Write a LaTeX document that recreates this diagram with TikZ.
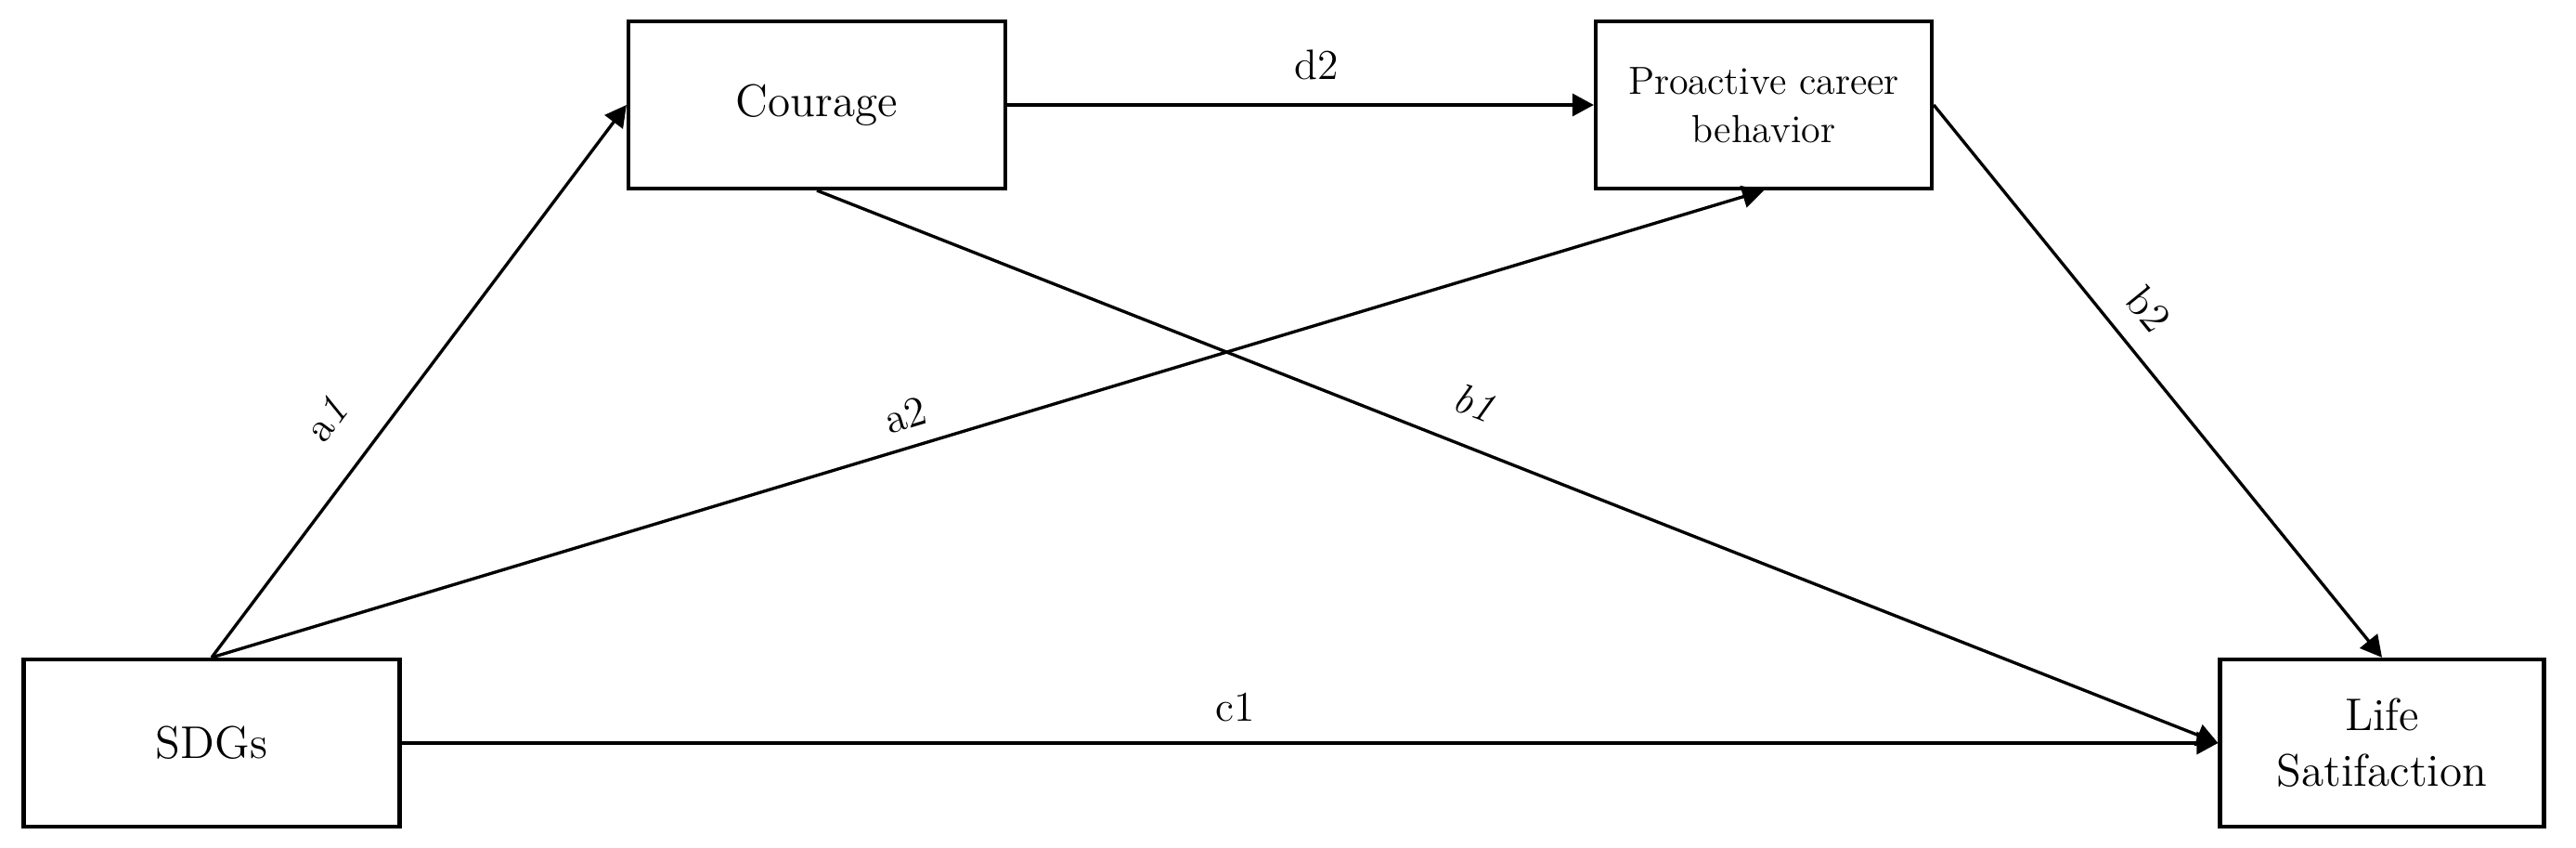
\documentclass[tikz,border=0pt]{standalone}
\usetikzlibrary{arrows.meta}
\tikzset{box/.style={draw,line width=1.2pt,minimum height=1.80cm,align=center,font=\fontsize{14}{17}\selectfont}}
\tikzset{arr/.style={line width=0.95pt,-{Triangle[length=2.3mm,width=2.4mm]}}}
\tikzset{coef/.style={sloped,above,inner sep=0pt,font=\fontsize{13}{15}\selectfont}}

\begin{document}
\begin{tikzpicture}
	\useasboundingbox (0,0) rectangle (27.75,9.13);
	% variables
	\node[box,minimum width=4.05cm] (sdg) at (2.28,1.13) {SDGs};
	\node[box,minimum width=4.06cm] (cour) at (8.80,8.00) {Courage};
	\node[box,minimum width=3.62cm,font=\fontsize{12}{14.7}\selectfont] (pcb) at (19.00,8.00) {Proactive career\\behavior};
	\node[box,minimum width=3.49cm] (ls) at (25.66,1.13) {Life\\Satifaction};

	% paths
	\draw[arr] (sdg.north) -- node[coef,pos=0.375,outer sep=0.40cm] {a\textit{1}} (cour.west);
	\draw[arr] (sdg.north) -- node[coef,pos=0.453,outer sep=0.19cm] {a2} (pcb.south);
	\draw[arr] (cour.east) -- node[coef,pos=0.527,outer sep=0.27cm] {d2} (pcb.west);
	\draw[arr] (cour.south) -- node[coef,pos=0.458,outer sep=0.31cm] {\textit{b1}} (ls.west);
	\draw[arr] (pcb.east) -- node[coef,pos=0.413,outer sep=0.25cm] {b2} (ls.north);
	\draw[arr] (sdg.east) -- node[coef,pos=0.459,outer sep=0.23cm] {c1} (ls.west);
\end{tikzpicture}
\end{document}
